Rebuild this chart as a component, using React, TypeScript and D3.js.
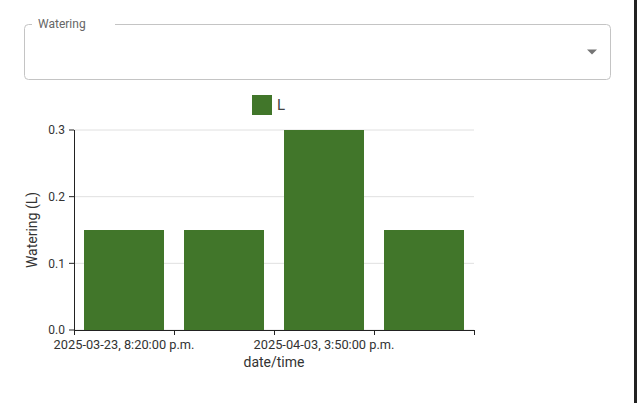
import React from 'react';
import * as d3 from 'd3';

// watering events, one bar each
const categories = ['w1', 'w2', 'w3', 'w4'];
const tickLabels = ['2025-03-23, 8:20:00 p.m.', '', '2025-04-03, 3:50:00 p.m.', ''];
const values = [0.15, 0.15, 0.3, 0.15];
const yTicks = [0, 0.1, 0.2, 0.3];
const seriesName = 'L';

const width = 637;
const height = 403;
const margin = { left: 74, top: 130, right: 163, bottom: 73 };
const plotW = width - margin.left - margin.right;
const plotH = height - margin.top - margin.bottom;

const barColor = '#41762a';
const font = 'Roboto, sans-serif';

const App = () => {
    const xScale = d3.scaleBand<string>()
        .domain(categories)
        .range([0, plotW])
        .paddingInner(0.2)
        .paddingOuter(0.1);

    const yScale = d3.scaleLinear()
        .domain([0, 0.3])
        .range([plotH, 0]);

    const step = xScale.step();
    const edges = categories.map(c => (xScale(c) as number) - step * 0.1).concat([plotW]);

    return (
        <div style={{ position: 'absolute', left: 0, top: 0 }}>
            <svg width={width} height={height} style={{ display: 'block', fontFamily: font }}>
                <rect width={width} height={height} fill="#fff" />

                {/* select box */}
                <path
                    d="M 32 24.5 L 28.5 24.5 Q 24.5 24.5 24.5 28.5 L 24.5 75.5 Q 24.5 79.5 28.5 79.5 L 606.5 79.5 Q 610.5 79.5 610.5 75.5 L 610.5 28.5 Q 610.5 24.5 606.5 24.5 L 115 24.5"
                    fill="none" stroke="#c4c4c4" />
                <text x={38} y={28} fontSize={12} fill="#666">Watering</text>
                <path d="M 587 49.5 L 597 49.5 L 592 54.5 Z" fill="#757575" />

                {/* legend */}
                <rect x={252} y={95} width={20} height={20} fill={barColor} />
                <text x={277} y={110} fontSize={15} fill="#444">{seriesName}</text>

                <g transform={`translate(${margin.left}, ${margin.top})`}>
                    {yTicks.map(t => (
                        <line key={'g' + t} x1={0} x2={plotW} y1={yScale(t)} y2={yScale(t)} stroke="#e0e0e0" />
                    ))}

                    {categories.map((c, i) => (
                        <rect key={c}
                            x={xScale(c)}
                            y={yScale(values[i])}
                            width={xScale.bandwidth()}
                            height={plotH - yScale(values[i])}
                            fill={barColor} />
                    ))}

                    {/* y axis */}
                    <line x1={0.5} x2={0.5} y1={0} y2={plotH} stroke="#222" />
                    {yTicks.map(t => (
                        <g key={'y' + t} transform={`translate(0, ${yScale(t)})`}>
                            <line x1={-5} x2={0} stroke="#222" />
                            <text x={-9} dy="0.35em" textAnchor="end" fontSize={12} fill="#333">{d3.format('.1f')(t)}</text>
                        </g>
                    ))}
                    <text transform={`translate(-37, ${plotH / 2}) rotate(-90)`} textAnchor="middle" fontSize={14} fill="#333">Watering (L)</text>

                    {/* x axis */}
                    <line x1={0} x2={plotW} y1={plotH + 0.5} y2={plotH + 0.5} stroke="#222" />
                    {edges.map((e, i) => (
                        <line key={'t' + i} x1={e + 0.5} x2={e + 0.5} y1={plotH} y2={plotH + 5} stroke="#222" />
                    ))}
                    {categories.map((c, i) => (
                        <text key={'l' + c} x={(xScale(c) as number) + xScale.bandwidth() / 2} y={plotH + 19}
                            textAnchor="middle" fontSize={12.8} fill="#333">{tickLabels[i]}</text>
                    ))}
                    <text x={plotW / 2} y={plotH + 37} textAnchor="middle" fontSize={14} fill="#333">date/time</text>
                </g>

                <rect x={634} y={0} width={3} height={height} fill="#222" />
            </svg>
        </div>
    );
};

export default App;
